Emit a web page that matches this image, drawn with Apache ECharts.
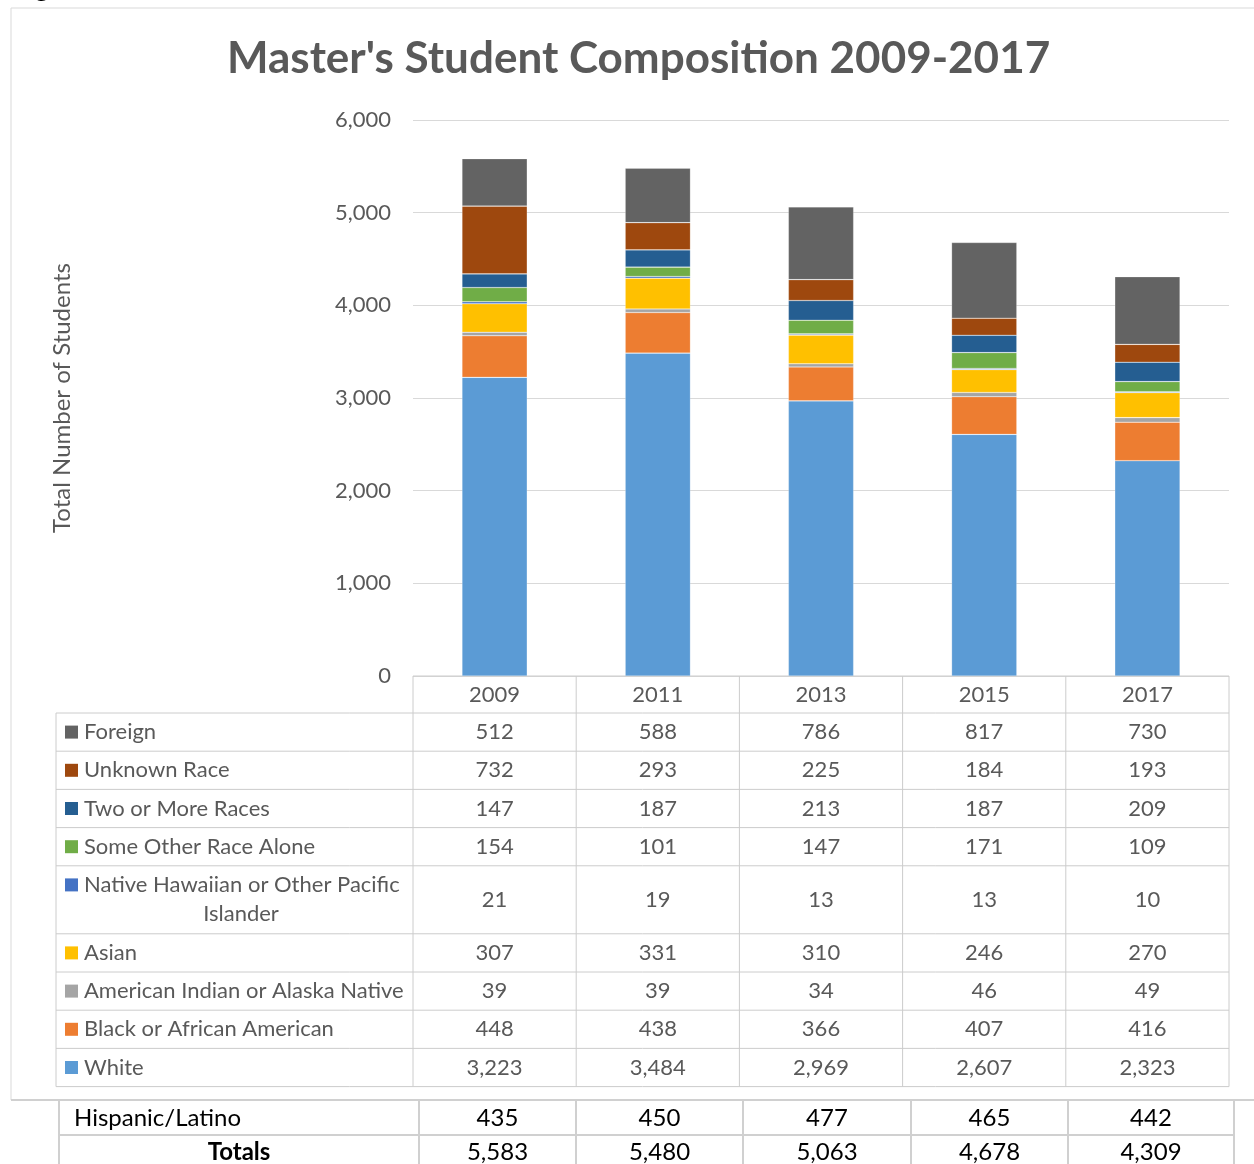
<!DOCTYPE html>
<html>
<head>
<meta charset="utf-8">
<script src="https://cdn.jsdelivr.net/npm/echarts@6/dist/echarts.min.js"></script>
<style>
html,body{margin:0;padding:0;background:#fff;}
#main{width:1254px;height:1164px;}
</style>
</head>
<body>
<div id="main"></div>
<script>
// ---- data ----
const categories = ['2009', '2011', '2013', '2015', '2017'];
const white = [3223, 3484, 2969, 2607, 2323];
const black = [448, 438, 366, 407, 416];
const amIndian = [39, 39, 34, 46, 49];
const asian = [307, 331, 310, 246, 270];
const nhpi = [21, 19, 13, 13, 10];
const someOther = [154, 101, 147, 171, 109];
const twoOrMore = [147, 187, 213, 187, 209];
const unknownRace = [732, 293, 225, 184, 193];
const foreign = [512, 588, 786, 817, 730];
const hispanic = [435, 450, 477, 465, 442];
const totals = [5583, 5480, 5063, 4678, 4309];
const yTicks = [0, 1000, 2000, 3000, 4000, 5000, 6000];

const seriesNames = ['White', 'Black or African American', 'American Indian or Alaska Native', 'Asian',
  'Native Hawaiian or Other Pacific Islander', 'Some Other Race Alone', 'Two or More Races', 'Unknown Race', 'Foreign'];
const seriesData = [white, black, amIndian, asian, nhpi, someOther, twoOrMore, unknownRace, foreign];
const seriesColors = ['#5B9BD5', '#ED7D31', '#A5A5A5', '#FFC000', '#4472C4', '#70AD47', '#255E91', '#9E480E', '#636363'];

const FONT = 'Lato, "Open Sans", sans-serif';
const TXT = '#595959';
const FS = 22;
const fmt = v => v.toLocaleString('en-US');

const chart = echarts.init(document.getElementById('main'));
chart.setOption({
  animation: false,
  backgroundColor: '#ffffff',
  title: {
    text: "Master's Student Composition 2009-2017",
    left: 222, top: 32,
    textStyle: { fontFamily: FONT, fontSize: 44, fontWeight: 'bold', color: TXT }
  },
  grid: { left: 413, right: 25, top: 120, bottom: 488, containLabel: false },
  xAxis: {
    type: 'category', data: categories,
    axisLine: { show: false }, axisTick: { show: false },
    axisLabel: { margin: 19, verticalAlign: 'middle', fontFamily: FONT, fontSize: FS, color: TXT }
  },
  yAxis: {
    type: 'value', min: yTicks[0], max: yTicks[yTicks.length - 1], interval: 1000,
    name: 'Total Number of Students', nameLocation: 'middle', nameGap: 339,
    nameTextStyle: { fontFamily: FONT, fontSize: 24, color: TXT },
    axisLine: { show: false }, axisTick: { show: false },
    axisLabel: { margin: 22, fontFamily: FONT, fontSize: FS, color: TXT, formatter: v => fmt(v) },
    splitLine: { lineStyle: { color: '#D9D9D9', width: 1 } }
  },
  series: seriesNames.map((n, i) => ({
    name: n, type: 'bar', stack: 'total', barWidth: '40%',
    data: seriesData[i],
    itemStyle: { color: seriesColors[i], borderColor: 'rgba(255,255,255,0.35)', borderWidth: 0.6 }
  }))
});

// ---- data table under the plot (positions from the axis scales) ----
const centers = categories.map((c, i) => chart.convertToPixel({ xAxisIndex: 0 }, i));
const band = centers[1] - centers[0];
const colEdges = [centers[0] - band / 2].concat(centers.map(c => c + band / 2));
const yBase = chart.convertToPixel({ yAxisIndex: 0 }, 0);
const tableLeft = 56;
const headerH = 37;
const rowH = 38.2;
const tallRowH = 68;
const LINE = '#CCCCCC';

const g = [];
const hline = (x1, x2, y, c, w) => g.push({ type: 'line', shape: { x1, y1: y, x2, y2: y }, style: { stroke: c || LINE, lineWidth: w || 1 }, silent: true });
const vline = (x, y1, y2, c, w) => g.push({ type: 'line', shape: { x1: x, y1, x2: x, y2 }, style: { stroke: c || LINE, lineWidth: w || 1 }, silent: true });
const txt = (x, y, s, opts) => g.push(Object.assign({ type: 'text', x, y, style: Object.assign({ text: s, font: FS + 'px ' + FONT, fill: TXT, textAlign: 'center', textVerticalAlign: 'middle' }, opts || {}) , silent: true }));

// outer frame of the chart
g.push({ type: 'rect', shape: { x: 11, y: 8, width: 1260, height: 1092 }, style: { fill: 'none', stroke: '#D9D9D9', lineWidth: 1 }, silent: true, z: -1 });
// clipped heading above the chart (only its descender is visible)
txt(14, 2, 'Figure', { textAlign: 'left', textVerticalAlign: 'bottom', font: 'bold 26px ' + FONT, fill: '#000' });

// header row
const tableRight = colEdges[colEdges.length - 1];
hline(colEdges[0], tableRight, yBase);
hline(tableLeft, tableRight, yBase + headerH);
// rows: top-to-bottom = reverse stack order
let y = yBase + headerH;
for (let r = seriesNames.length - 1; r >= 0; r--) {
  const h = (r === 4) ? tallRowH : rowH;
  const name = seriesNames[r];
  const cy = y + h / 2;
  const keyY = (r === 4) ? y + rowH / 2 : cy;
  g.push({ type: 'rect', shape: { x: 65, y: keyY - 6.5, width: 13, height: 13 }, style: { fill: seriesColors[r] }, silent: true });
  if (r === 4) {
    txt(84, y + 19, 'Native Hawaiian or Other Pacific', { textAlign: 'left' });
    txt(241, y + 48, 'Islander');
  } else {
    txt(84, cy, name, { textAlign: 'left' });
  }
  seriesData[r].forEach((v, i) => txt(centers[i], cy, fmt(v)));
  y += h;
  hline(tableLeft, tableRight, y);
}
vline(tableLeft, yBase + headerH, y);
colEdges.forEach(x => vline(x, yBase, y));

// ---- separate summary table below the chart ----
const sumEdges = [59, 419, 576, 743, 911, 1068, 1234];
const sTop = 1100, sRow = 35;
const SL = '#D0D0D0';
const SF = '24px ' + FONT;
hline(11, 1254, sTop, SL, 2);
hline(sumEdges[0], sumEdges[sumEdges.length - 1], sTop + sRow, SL, 2);
sumEdges.forEach(x => vline(x, sTop, 1164, SL, 2));
txt(74, sTop + 18, 'Hispanic/Latino', { textAlign: 'left', fill: '#000', font: SF });
txt((sumEdges[0] + sumEdges[1]) / 2, sTop + sRow + 17, 'Totals', { fill: '#000', font: 'bold ' + SF });
hispanic.forEach((v, i) => txt((sumEdges[i + 1] + sumEdges[i + 2]) / 2, sTop + 18, fmt(v), { fill: '#000', font: SF }));
totals.forEach((v, i) => txt((sumEdges[i + 1] + sumEdges[i + 2]) / 2, sTop + sRow + 17, fmt(v), { fill: '#000', font: SF }));

chart.setOption({ graphic: g });
</script>
</body>
</html>
